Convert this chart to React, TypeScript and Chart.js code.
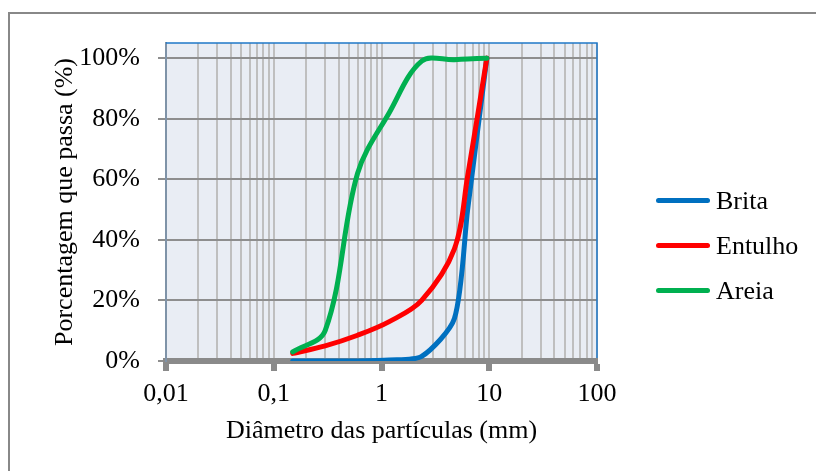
import React, { useEffect, useRef } from "react";
import { Chart, registerables } from "chart.js";

Chart.register(...registerables);

// ---- data ----
const sieveSizes = [0.15, 0.3, 0.6, 1.18, 2.36, 4.75, 6.3, 9.5];
const britaPassing = [0, 0, 0, 0.3, 1.5, 14, 50, 100];
const entulhoPassing = [2.5, 5, 8.5, 13, 20, 37, 61, 100];
const areiaPassing = [3, 10, 62, 82, 99, 99.5, 99.7, 100];
const seriesNames = ["Brita", "Entulho", "Areia"];
const seriesValues = [britaPassing, entulhoPassing, areiaPassing];
const seriesColors = ["#0070C0", "#FF0000", "#00B050"];
const seriesTension = [0.25, 0.35, 0.35];
const xMajorValues = [0.01, 0.1, 1, 10, 100];
const xTickLabels = ["0,01", "0,1", "1", "10", "100"];
const yTickValues = [0, 20, 40, 60, 80, 100];
const xTitle = "Diâmetro das partículas (mm)";
const yTitle = "Porcentagem que passa (%)";

const FONT = "'Liberation Serif', 'Times New Roman', serif";

const isMajor = (v: number) => {
  const l = Math.log10(v);
  return Math.abs(l - Math.round(l)) < 1e-9;
};

const xGridValues: number[] = [];
for (let i = 0; i < xMajorValues.length - 1; i++) {
  for (let m = 1; m <= 9; m++) xGridValues.push(Number((xMajorValues[i] * m).toPrecision(4)));
}
xGridValues.push(xMajorValues[xMajorValues.length - 1]);

const plotBgPlugin = {
  id: "plotBg",
  beforeDraw(chart: any) {
    const { ctx, chartArea: a } = chart;
    ctx.save();
    ctx.fillStyle = "#E9EDF4";
    ctx.fillRect(a.left, a.top, a.right - a.left, a.bottom - a.top);
    ctx.restore();
  },
  beforeDatasetsDraw(chart: any) {
    const { ctx, chartArea: a } = chart;
    ctx.save();
    ctx.strokeStyle = "#1F78C8";
    ctx.lineWidth = 1.5;
    ctx.beginPath();
    ctx.moveTo(a.left, a.top);
    ctx.lineTo(a.right, a.top);
    ctx.lineTo(a.right, a.bottom - 3);
    ctx.stroke();
    ctx.restore();
  },
};

export default function App() {
  const canvasRef = useRef<HTMLCanvasElement | null>(null);

  useEffect(() => {
    if (!canvasRef.current) return;
    const chart = new Chart(canvasRef.current, {
      type: "line",
      data: {
        datasets: seriesNames.map((name, i) => ({
          label: name,
          data: sieveSizes.map((x, j) => ({ x, y: seriesValues[i][j] })),
          borderColor: seriesColors[i],
          backgroundColor: seriesColors[i],
          borderWidth: 5,
          borderCapStyle: "round",
          borderJoinStyle: "round",
          pointRadius: 0,
          tension: seriesTension[i],
          fill: false,
          order: seriesNames.length - i,
        })),
      },
      options: {
        responsive: false,
        devicePixelRatio: 1,
        animation: false,
        layout: { padding: { left: 0, top: 43, right: 219, bottom: 24 } },
        plugins: {
          legend: { display: false },
          tooltip: { enabled: false },
        },
        scales: {
          x: {
            type: "logarithmic",
            min: 0.01,
            max: 100,
            afterBuildTicks: (scale: any) => {
              scale.ticks = xGridValues.map((v) => ({ value: v, major: isMajor(v) }));
            },
            afterFit: (scale: any) => {
              scale.height = 86;
            },
            ticks: {
              autoSkip: false,
              maxRotation: 0,
              minRotation: 0,
              padding: 8,
              color: "#000",
              font: { family: FONT, size: 26 },
              callback: (value: any) => {
                const idx = xMajorValues.findIndex((m) => Math.abs(m - Number(value)) < 1e-9);
                return idx >= 0 ? xTickLabels[idx] : "";
              },
            },
            grid: {
              color: "#BFBFBF",
              lineWidth: 2,
              tickLength: 10,
              tickColor: (ctx: any) => (ctx.tick && isMajor(ctx.tick.value) ? "#8A8A8A" : "rgba(0,0,0,0)"),
              tickWidth: 6,
            },
            border: { display: true, color: "#8A8A8A", width: 6 },
            title: {
              display: true,
              text: xTitle,
              color: "#000",
              font: { family: FONT, size: 26 },
              padding: { top: 0, bottom: 0 },
            },
          },
          y: {
            type: "linear",
            min: 0,
            max: 105,
            afterBuildTicks: (scale: any) => {
              scale.ticks = yTickValues.map((v) => ({ value: v }));
            },
            afterFit: (scale: any) => {
              scale.width = 166;
            },
            ticks: {
              padding: 18,
              color: "#000",
              font: { family: FONT, size: 26 },
              callback: (value: any) => `${value}%`,
            },
            grid: {
              color: "#8E8E8E",
              lineWidth: 2,
              tickLength: 8,
              tickColor: "#8E8E8E",
              tickWidth: 2,
            },
            border: { display: true, color: "#7F93A8", width: 2 },
            title: {
              display: true,
              text: yTitle,
              color: "#000",
              font: { family: FONT, size: 26 },
              padding: { top: 50, bottom: 0 },
            },
          },
        },
      } as any,
      plugins: [plotBgPlugin],
    });
    return () => chart.destroy();
  }, []);

  return (
    <div style={{ position: "fixed", left: 0, top: 0, width: 816, height: 471, background: "#fff", overflow: "hidden" }}>
      <div
        style={{
          position: "absolute",
          left: 8,
          top: 12,
          width: 900,
          height: 600,
          borderLeft: "2px solid #888",
          borderTop: "2px solid #888",
        }}
      />
      <canvas ref={canvasRef} width={816} height={471} style={{ position: "absolute", left: 0, top: 0, display: "block" }} />
      {seriesNames.map((name, i) => (
        <div
          key={name}
          style={{
            position: "absolute",
            left: 656,
            top: 185.4 + i * 44.8,
            height: 31.2,
            display: "flex",
            alignItems: "center",
            fontFamily: FONT,
            fontSize: 26,
            lineHeight: "31.2px",
            color: "#000",
            whiteSpace: "nowrap",
          }}
        >
          <div style={{ width: 54, height: 5, borderRadius: 2.5, background: seriesColors[i], marginRight: 6 }} />
          <span>{name}</span>
        </div>
      ))}
    </div>
  );
}
